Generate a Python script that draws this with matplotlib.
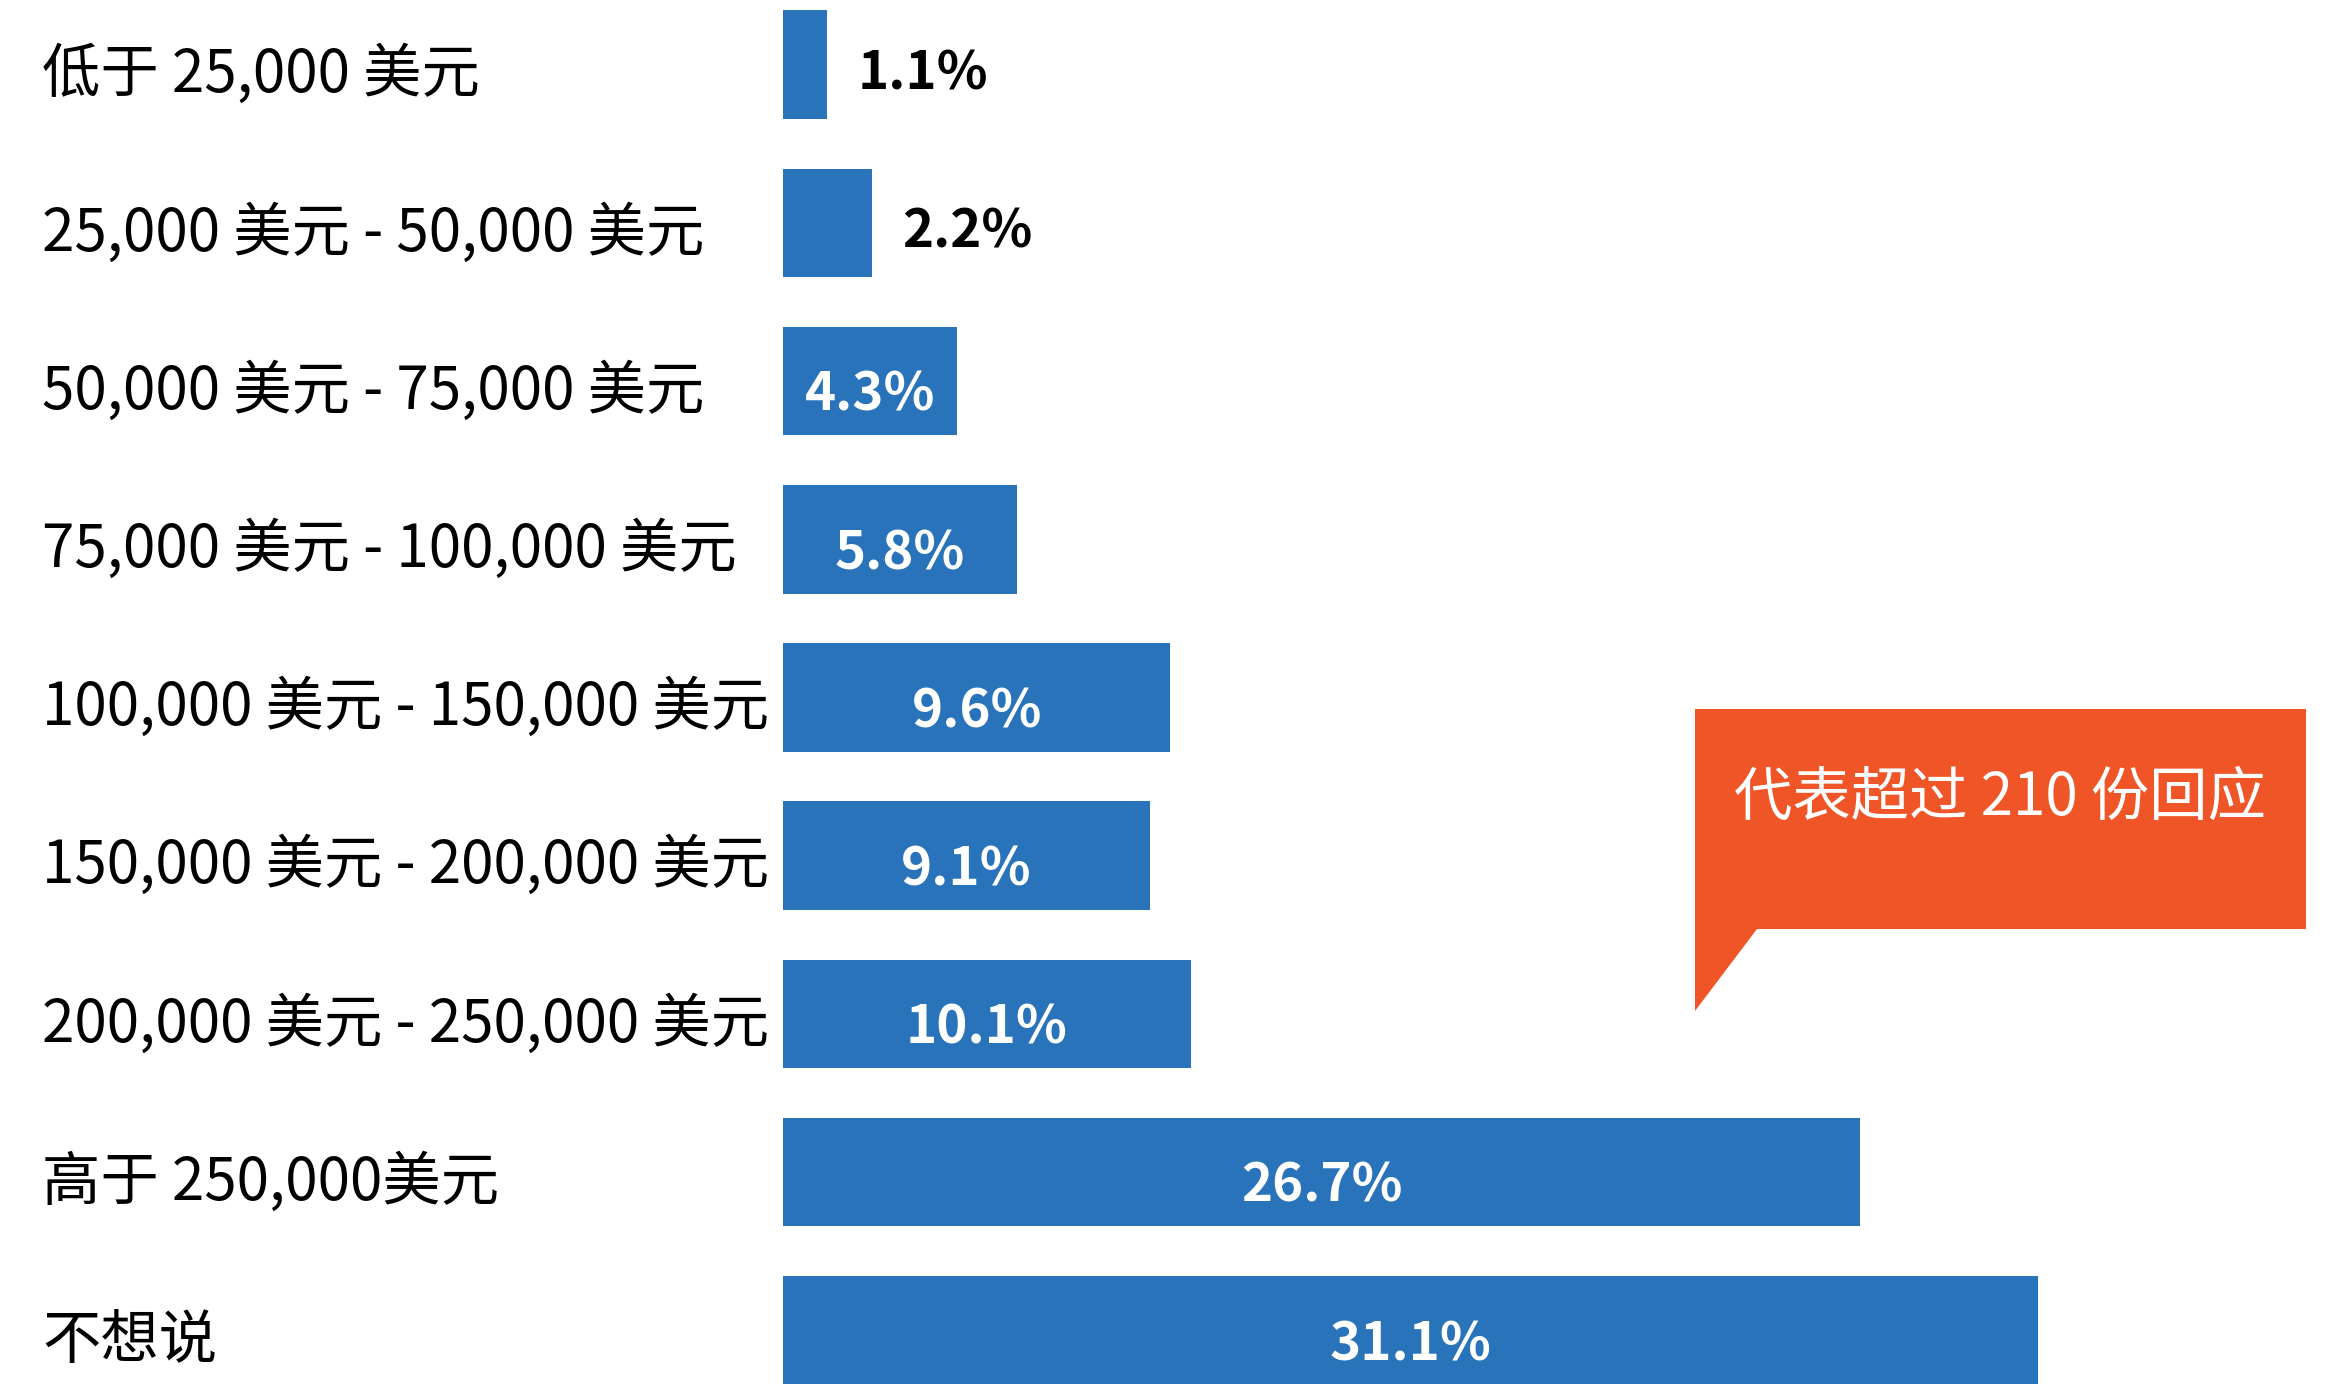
import matplotlib.pyplot as plt
from matplotlib.patches import Polygon
from matplotlib.transforms import blended_transform_factory

plt.rcParams['font.family'] = ['Noto Sans CJK SC', 'DejaVu Sans']

categories = ['低于 25,000 美元', '25,000 美元 - 50,000 美元', '50,000 美元 - 75,000 美元',
              '75,000 美元 - 100,000 美元', '100,000 美元 - 150,000 美元',
              '150,000 美元 - 200,000 美元', '200,000 美元 - 250,000 美元',
              '高于 250,000美元', '不想说']
shares = [1.1, 2.2, 4.3, 5.8, 9.6, 9.1, 10.1, 26.7, 31.1]
note = '代表超过 210 份回应'

blue = '#2873b9'
orange = '#f05527'

W, H = 2331, 1384
fig = plt.figure(figsize=(W / 100, H / 100), dpi=100)
left = 783 / W
ax = fig.add_axes([left, 0, 1 - left, 1])
ax.set_xlim(0, (W - 783) / 40.35)
ax.set_ylim((H - 64.7) / 158.2, -64.7 / 158.2)
ax.axis('off')

ys = range(len(shares))
ax.barh(ys, shares, height=0.686, color=blue)

lab = blended_transform_factory(fig.transFigure, ax.transData)
for y, name, v in zip(ys, categories, shares):
    ax.text(42 / W, y + 0.07, name, transform=lab, ha='left', va='center',
            fontsize=42, color='black')
    if v < 3:
        ax.text(v + 0.75, y + 0.06, f'{v}%', ha='left', va='center',
                fontsize=38, fontweight='bold', color='black')
    else:
        ax.text(v / 2, y + 0.09, f'{v}%', ha='center', va='center',
                fontsize=38, fontweight='bold', color='white')

# speech-bubble note on the right
x0, x1, xt = 1695 / W, 2306 / W, 1757 / W
y0, y1, yt = 1 - 709 / H, 1 - 929 / H, 1 - 1011 / H
bubble = Polygon([(x0, y0), (x1, y0), (x1, y1), (xt, y1), (x0, yt)],
                 closed=True, transform=fig.transFigure, color=orange, lw=0)
fig.patches.append(bubble)
fig.text((x0 + x1) / 2, 1 - 798 / H, note, ha='center', va='center',
         fontsize=42, color='white')

fig.savefig('out.png', dpi=100)
